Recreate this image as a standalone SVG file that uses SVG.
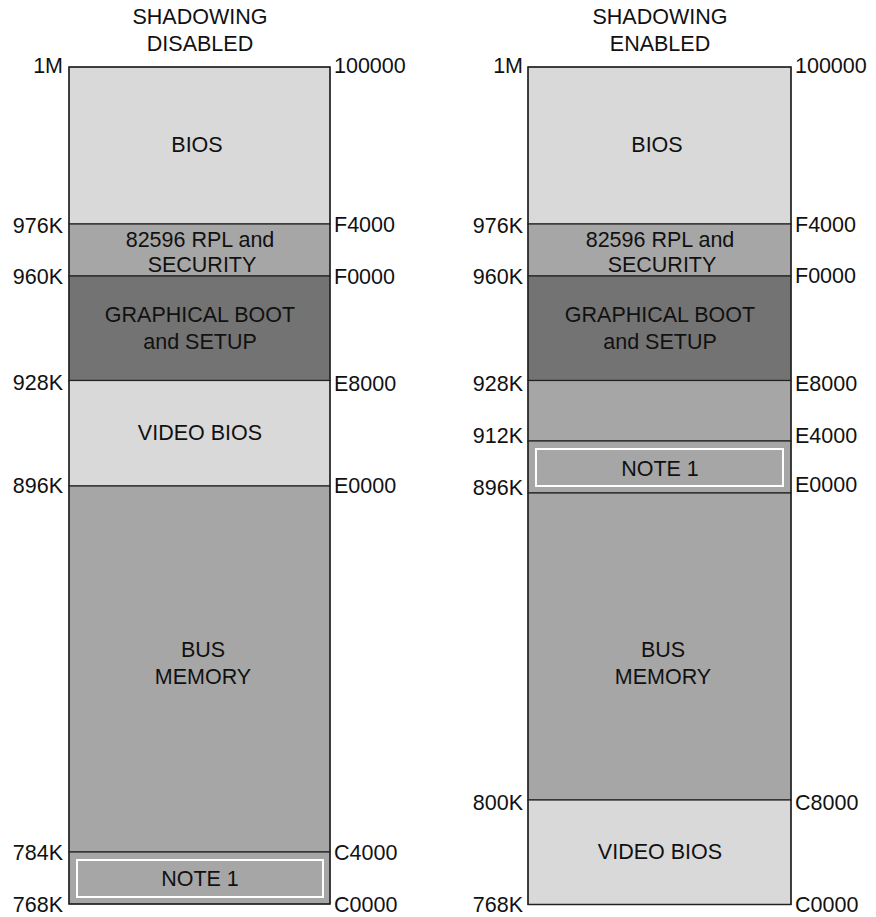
<svg xmlns="http://www.w3.org/2000/svg" width="876" height="917" viewBox="0 0 876 917">
<style>
text{font-family:"Liberation Sans",Arial,sans-serif;font-size:21.5px;fill:#111}
.c{text-anchor:middle}
.l{text-anchor:end}
.lt{fill:#d9d9d9}
.md{fill:#a6a6a6}
.dk{fill:#737373}
.seg{stroke:#222;stroke-width:1.2}
.note{fill:none;stroke:#fff;stroke-width:2}
.frame{fill:none;stroke:#222;stroke-width:1.3}
</style>
<rect width="876" height="917" fill="#fff"/>

<g id="disabled">
<text class="c" x="200" y="24">SHADOWING</text>
<text class="c" x="200" y="51">DISABLED</text>
<g id="d-bios"><rect class="lt seg" x="69" y="67" width="261" height="157"/><text class="c" x="197" y="152">BIOS</text></g>
<g id="d-rpl"><rect class="md seg" x="69" y="224" width="261" height="52"/><text class="c" x="200" y="247">82596 RPL and</text><text class="c" x="202" y="272">SECURITY</text></g>
<g id="d-gfx"><rect class="dk seg" x="69" y="276" width="261" height="104.5"/><text class="c" x="200" y="322">GRAPHICAL BOOT</text><text class="c" x="200" y="349">and SETUP</text></g>
<g id="d-video"><rect class="lt seg" x="69" y="380.5" width="261" height="105.5"/><text class="c" x="200" y="440">VIDEO BIOS</text></g>
<g id="d-bus"><rect class="md seg" x="69" y="486" width="261" height="366"/><text class="c" x="203" y="657">BUS</text><text class="c" x="203" y="684">MEMORY</text></g>
<g id="d-note"><rect class="md seg" x="69" y="852" width="261" height="52"/><rect class="note" x="77" y="860" width="246" height="37"/><text class="c" x="200" y="886">NOTE 1</text></g>
<rect class="frame" x="69" y="67" width="261" height="837"/>
<g id="d-labels">
<text class="l" x="63" y="73">1M</text>
<text class="l" x="63" y="233">976K</text>
<text class="l" x="63" y="284">960K</text>
<text class="l" x="63" y="390">928K</text>
<text class="l" x="63" y="493">896K</text>
<text class="l" x="63" y="860">784K</text>
<text class="l" x="63" y="912">768K</text>
<text x="334" y="73">100000</text>
<text x="334" y="232">F4000</text>
<text x="334" y="284">F0000</text>
<text x="334" y="391">E8000</text>
<text x="334" y="493">E0000</text>
<text x="334" y="860">C4000</text>
<text x="334" y="912">C0000</text>
</g>
</g>

<g id="enabled">
<text class="c" x="660" y="24">SHADOWING</text>
<text class="c" x="660" y="51">ENABLED</text>
<g id="e-bios"><rect class="lt seg" x="528" y="67" width="263" height="157"/><text class="c" x="657" y="152">BIOS</text></g>
<g id="e-rpl"><rect class="md seg" x="528" y="224" width="263" height="52"/><text class="c" x="660" y="247">82596 RPL and</text><text class="c" x="662" y="272">SECURITY</text></g>
<g id="e-gfx"><rect class="dk seg" x="528" y="276" width="263" height="104.5"/><text class="c" x="660" y="322">GRAPHICAL BOOT</text><text class="c" x="660" y="349">and SETUP</text></g>
<g id="e-blank"><rect class="md seg" x="528" y="380.5" width="263" height="60.5"/></g>
<g id="e-note"><rect class="md seg" x="528" y="441" width="263" height="52"/><rect class="note" x="536" y="449" width="247" height="37"/><text class="c" x="660" y="476">NOTE 1</text></g>
<g id="e-bus"><rect class="md seg" x="528" y="493" width="263" height="307"/><text class="c" x="663" y="657">BUS</text><text class="c" x="663" y="684">MEMORY</text></g>
<g id="e-video"><rect class="lt seg" x="528" y="800" width="263" height="104.5"/><text class="c" x="660" y="859">VIDEO BIOS</text></g>
<rect class="frame" x="528" y="67" width="263" height="837.5"/>
<g id="e-labels">
<text class="l" x="523" y="73">1M</text>
<text class="l" x="523" y="233">976K</text>
<text class="l" x="523" y="284">960K</text>
<text class="l" x="523" y="391">928K</text>
<text class="l" x="523" y="443">912K</text>
<text class="l" x="523" y="495">896K</text>
<text class="l" x="523" y="810">800K</text>
<text class="l" x="523" y="912">768K</text>
<text x="795" y="73">100000</text>
<text x="795" y="232">F4000</text>
<text x="795" y="283">F0000</text>
<text x="795" y="391">E8000</text>
<text x="795" y="443">E4000</text>
<text x="795" y="492">E0000</text>
<text x="795" y="810">C8000</text>
<text x="795" y="912">C0000</text>
</g>
</g>
</svg>
